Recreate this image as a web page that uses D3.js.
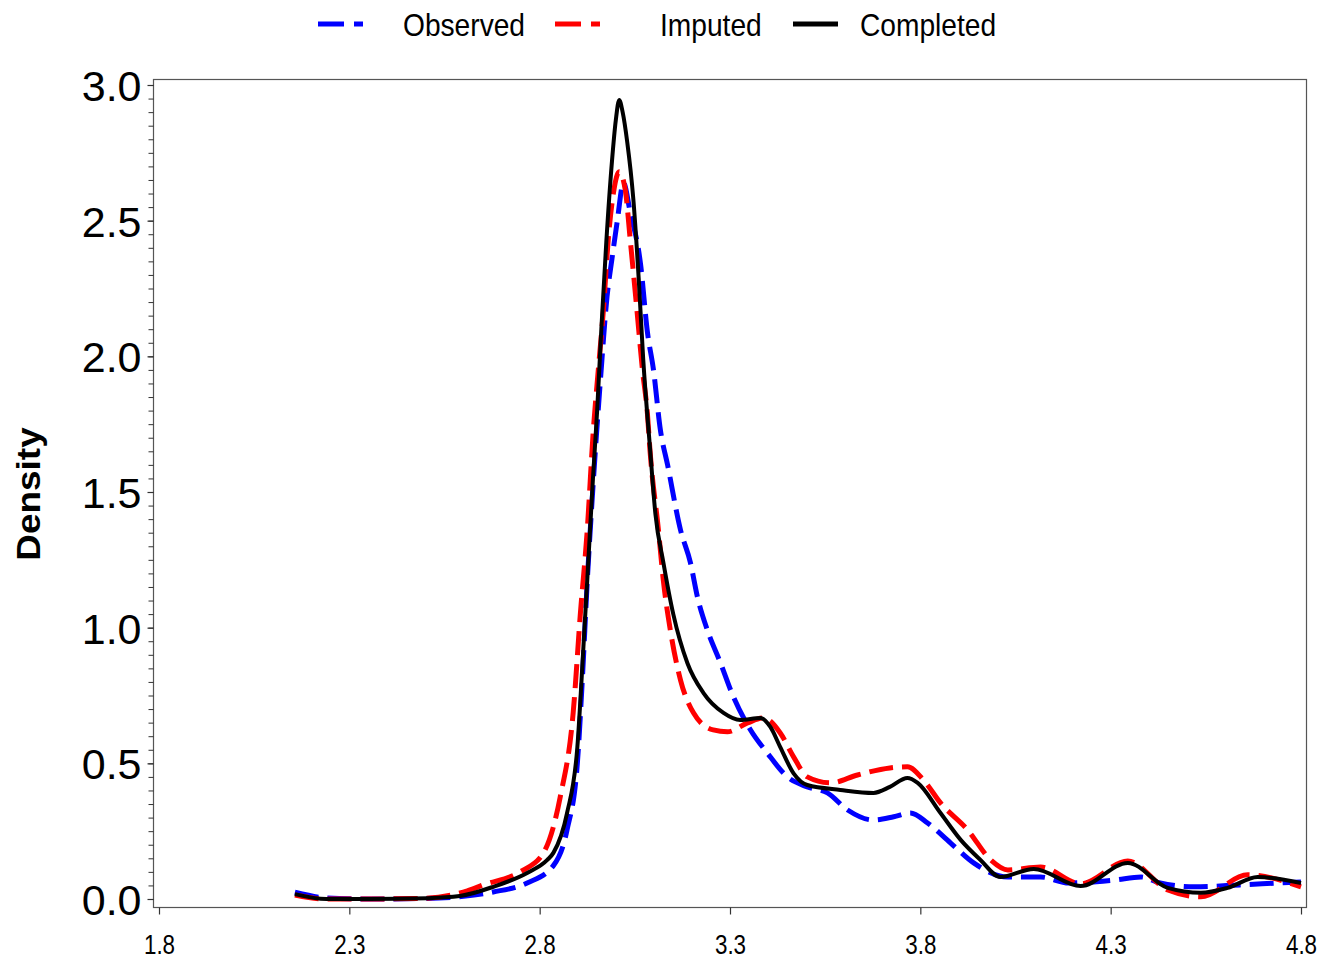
<!DOCTYPE html>
<html>
<head>
<meta charset="utf-8">
<script src="https://cdn.jsdelivr.net/npm/d3@7"></script>
<style>
    body { margin: 0; background: #fff; }
    text { font-family: "Liberation Sans", Arial, sans-serif; fill: #000; }
</style>
</head>
<body>
<div id="chart"></div>
<script>

// density curves, [value, density]
const observed = [
    [2.157, 0.025], [2.24, 0.004], [2.35, 0.0], [2.5, 0.002], [2.6, 0.010], [2.678, 0.026],
    [2.767, 0.059], [2.836, 0.123], [2.872, 0.255], [2.899, 0.50], [2.912, 0.807],
    [2.925, 1.17], [2.941, 1.54], [2.96, 1.92], [2.977, 2.22], [2.99, 2.36], [3.004, 2.50],
    [3.02, 2.64], [3.038, 2.53], [3.065, 2.34], [3.083, 2.09], [3.099, 1.95], [3.117, 1.73],
    [3.136, 1.60], [3.17, 1.36], [3.196, 1.24], [3.215, 1.11], [3.24, 0.993], [3.275, 0.87],
    [3.309, 0.745], [3.354, 0.623], [3.398, 0.538], [3.451, 0.45], [3.503, 0.413],
    [3.556, 0.391], [3.609, 0.328], [3.677, 0.291], [3.73, 0.303], [3.774, 0.317],
    [3.819, 0.28], [3.879, 0.207], [3.94, 0.133], [4.03, 0.081], [4.116, 0.081],
    [4.19, 0.059], [4.31, 0.070], [4.38, 0.081], [4.43, 0.059], [4.52, 0.045],
    [4.64, 0.052], [4.74, 0.059], [4.80, 0.063]
]

const imputed = [
    [2.157, 0.015], [2.24, 0.0], [2.35, 0.0], [2.5, 0.003], [2.61, 0.030], [2.652, 0.052],
    [2.749, 0.10], [2.81, 0.17], [2.854, 0.376], [2.888, 0.686], [2.907, 1.053],
    [2.925, 1.36], [2.941, 1.728], [2.954, 1.95], [2.967, 2.163], [2.98, 2.428],
    [2.995, 2.613], [3.009, 2.68], [3.025, 2.613], [3.038, 2.428], [3.056, 2.163],
    [3.07, 1.95], [3.083, 1.79], [3.09, 1.65], [3.112, 1.36], [3.125, 1.173],
    [3.143, 0.993], [3.17, 0.807], [3.204, 0.686], [3.256, 0.623], [3.293, 0.616],
    [3.346, 0.649], [3.388, 0.667], [3.432, 0.612], [3.467, 0.524], [3.503, 0.45],
    [3.564, 0.428], [3.635, 0.457], [3.72, 0.483], [3.766, 0.487], [3.808, 0.439],
    [3.853, 0.354], [3.924, 0.255], [3.985, 0.144], [4.03, 0.107], [4.116, 0.118],
    [4.221, 0.056], [4.345, 0.14], [4.45, 0.033], [4.537, 0.008], [4.66, 0.089],
    [4.80, 0.045]
]

const completed = [
    [2.157, 0.018], [2.24, 0.0], [2.35, 0.0], [2.505, 0.003], [2.59, 0.011], [2.678, 0.045],
    [2.767, 0.096], [2.82, 0.144], [2.836, 0.17], [2.872, 0.317], [2.899, 0.56],
    [2.915, 0.93], [2.928, 1.25], [2.94, 1.55], [2.951, 1.80], [2.962, 2.10],
    [2.975, 2.42], [2.99, 2.72], [3.0, 2.87], [3.009, 2.945], [3.018, 2.90], [3.03, 2.79],
    [3.046, 2.58], [3.06, 2.29], [3.072, 1.99], [3.09, 1.66], [3.104, 1.42], [3.125, 1.24],
    [3.151, 1.05], [3.188, 0.87], [3.23, 0.76], [3.283, 0.686], [3.327, 0.66],
    [3.38, 0.667], [3.406, 0.634], [3.432, 0.56], [3.467, 0.463], [3.503, 0.42],
    [3.59, 0.402], [3.677, 0.391], [3.72, 0.413], [3.766, 0.446], [3.793, 0.428],
    [3.853, 0.317], [3.906, 0.218], [3.958, 0.144], [4.01, 0.081], [4.098, 0.111],
    [4.221, 0.048], [4.345, 0.133], [4.45, 0.041], [4.537, 0.023], [4.607, 0.041],
    [4.686, 0.081], [4.80, 0.059]
]

const seriesNames = ['Observed', 'Imputed', 'Completed']
const seriesColors = ['#0000ff', '#ff0000', '#000000']
const xTicks = [1.8, 2.3, 2.8, 3.3, 3.8, 4.3, 4.8]
const yTicks = [0.0, 0.5, 1.0, 1.5, 2.0, 2.5, 3.0]

const width = 1340
const height = 964
const frame = { left: 153, top: 79, right: 1306, bottom: 907 }

var svg = d3.select('#chart')
    .append('svg')
    .attr('width', width)
    .attr('height', height)

// scales
var x = d3.scaleLinear()
    .domain([1.8, 4.8])
    .range([159, 1301])

var y = d3.scaleLinear()
    .domain([0, 3])
    .range([899, 85])

// plot frame
svg.append('rect')
    .attr('x', frame.left + 0.5)
    .attr('y', frame.top + 0.5)
    .attr('width', frame.right - frame.left)
    .attr('height', frame.bottom - frame.top)
    .attr('fill', 'none')
    .attr('stroke', '#555')
    .attr('stroke-width', 1.2)

// x axis
var xAxis = svg.append('g')
    .attr('transform', 'translate(0,' + (frame.bottom + 0.5) + ')')
    .call(d3.axisBottom(x).tickValues(xTicks).tickSize(7).tickFormat(d3.format('.1f')))

xAxis.select('.domain').remove()
xAxis.selectAll('line').attr('stroke', '#333').attr('stroke-width', 1.2)
// labels are drawn narrow, as in the original
xAxis.selectAll('text')
    .attr('y', 0)
    .attr('dy', null)
    .attr('font-size', 27)
    .attr('transform', 'translate(0,46) scale(0.83,1)')

// y axis, minor ticks every 0.05
var minor = d3.range(0, 61).map(i => i * 0.05)
svg.append('g')
    .attr('transform', 'translate(' + (frame.left + 0.5) + ',0)')
    .call(d3.axisLeft(y).tickValues(minor).tickSize(5).tickFormat(''))
    .call(g => g.select('.domain').remove())
    .selectAll('line').attr('stroke', '#333').attr('stroke-width', 1)

var yAxis = svg.append('g')
    .attr('transform', 'translate(' + (frame.left + 0.5) + ',0)')
    .call(d3.axisLeft(y).tickValues(yTicks).tickSize(6).tickPadding(6).tickFormat(d3.format('.1f')))

yAxis.select('.domain').remove()
yAxis.selectAll('line').attr('stroke', '#333').attr('stroke-width', 1.2)
yAxis.selectAll('text')
    .attr('font-size', 43)
    .attr('dy', '0.36em')

// y axis title
svg.append('text')
    .attr('transform', 'translate(40,494) rotate(-90) scale(1.12,1)')
    .attr('text-anchor', 'middle')
    .attr('font-size', 33)
    .attr('font-weight', 'bold')
    .text('Density')

// curves
var line = d3.line()
    .x(d => x(d[0]))
    .y(d => y(d[1]))
    .curve(d3.curveMonotoneX)

var curves = [observed, imputed, completed]
var dashes = ['24,9', '24,9', null]
var widths = [5, 5, 4]

svg.append('g')
    .selectAll('path')
    .data(curves)
    .enter()
    .append('path')
    .attr('d', line)
    .attr('fill', 'none')
    .attr('stroke', (d, i) => seriesColors[i])
    .attr('stroke-width', (d, i) => widths[i])
    .attr('stroke-dasharray', (d, i) => dashes[i])
    .attr('stroke-linejoin', 'round')

// legend
var legendSwatch = [318, 555, 793]
var legendText = [403, 660, 860]

var legend = svg.append('g')
    .selectAll('.legend')
    .data(seriesNames)
    .enter()
    .append('g')
    .attr('class', 'legend')

legend.append('line')
    .attr('x1', (d, i) => legendSwatch[i])
    .attr('x2', (d, i) => legendSwatch[i] + 45)
    .attr('y1', 24)
    .attr('y2', 24)
    .attr('stroke', (d, i) => seriesColors[i])
    .attr('stroke-width', 5)
    .attr('stroke-dasharray', (d, i) => i < 2 ? '26,10' : null)

legend.append('text')
    .attr('transform', (d, i) => 'translate(' + legendText[i] + ',36) scale(0.88,1)')
    .attr('font-size', 32)
    .text(d => d)

</script>
</body>
</html>
